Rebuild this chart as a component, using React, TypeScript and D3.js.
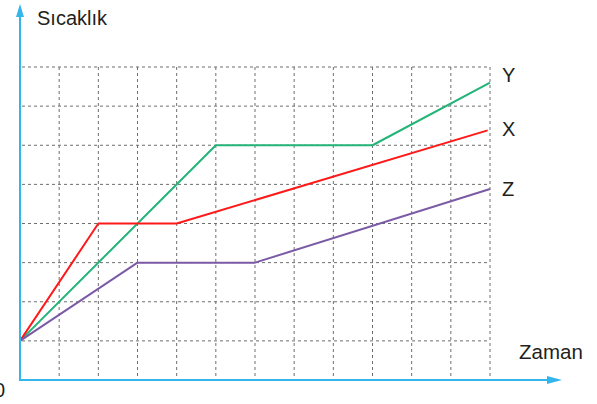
import React from "react";
import * as d3 from "d3";

const timeGrid = [0, 1, 2, 3, 4, 5, 6, 7, 8, 9, 10, 11, 12];
const tempGrid = [0, 1, 2, 3, 4, 5, 6, 7, 8];

type Pt = { t: number; v: number };
const seriesX: Pt[] = [
  { t: 0, v: 1 },
  { t: 2, v: 4 },
  { t: 4, v: 4 },
  { t: 11.94, v: 6.38 },
];
const seriesY: Pt[] = [
  { t: 0, v: 1 },
  { t: 5, v: 6 },
  { t: 9, v: 6 },
  { t: 12, v: 7.6 },
];
const seriesZ: Pt[] = [
  { t: 0, v: 1 },
  { t: 3, v: 3 },
  { t: 6, v: 3 },
  { t: 12, v: 4.88 },
];

const seriesList = [
  { name: "Y", data: seriesY, color: "#22b478" },
  { name: "X", data: seriesX, color: "#ff1a1a" },
  { name: "Z", data: seriesZ, color: "#7b5aa6" },
];

export default function App() {
  const W = 597;
  const H = 404;
  const x = d3.scaleLinear().domain([0, 12]).range([20, 490]);
  const y = d3.scaleLinear().domain([0, 8]).range([380, 67]);
  const line = d3
    .line<Pt>()
    .x((d) => x(d.t))
    .y((d) => y(d.v));
  const axisColor = "#34b6ec";
  const font = "'Liberation Sans', Arial, Helvetica, sans-serif";
  const gridColor = "#6e6e6e";

  return (
    <svg
      width={W}
      height={H}
      style={{ position: "absolute", left: 0, top: 0, background: "#fff" }}
      fontFamily={font}
    >
      {/* grid */}
      <g stroke={gridColor} strokeWidth={1} strokeDasharray="3,3" fill="none">
        {timeGrid.slice(1).map((t) => (
          <line key={"v" + t} x1={x(t)} x2={x(t)} y1={y(8)} y2={y(0)} />
        ))}
        {tempGrid.slice(1).map((v) => (
          <line key={"h" + v} x1={x(0) + 2} x2={x(12)} y1={y(v)} y2={y(v)} />
        ))}
      </g>
      {/* series */}
      {seriesList.map((s) => (
        <path
          key={s.name}
          d={line(s.data) || ""}
          fill="none"
          stroke={s.color}
          strokeWidth={2}
          strokeLinejoin="round"
        />
      ))}
      {/* axes */}
      <line x1={x(0)} x2={x(0)} y1={y(0) + 1} y2={14} stroke={axisColor} strokeWidth={2} />
      <path d={`M${x(0)},4 L${x(0) - 4},17 L${x(0) + 4},17 Z`} fill={axisColor} />
      <line x1={x(0) - 1} x2={550} y1={y(0)} y2={y(0)} stroke={axisColor} strokeWidth={2} />
      <path d={`M562,${y(0)} L547,${y(0) - 4} L547,${y(0) + 4} Z`} fill={axisColor} />
      {/* labels */}
      <text x={37} y={25} fontSize={20} fill="#231f20">
        Sıcaklık
      </text>
      <text x={519} y={359} fontSize={20.5} fill="#231f20">
        Zaman
      </text>
      <text x={5} y={397} fontSize={20} fill="#231f20" textAnchor="end">
        0
      </text>
      {seriesList.map((s) => {
        const last = s.data[s.data.length - 1];
        const offsets: Record<string, number> = { Y: -1, X: 6, Z: 7 };
        return (
          <text
            key={"l" + s.name}
            x={502}
            y={y(last.v) + offsets[s.name]}
            fontSize={20}
            fill="#231f20"
          >
            {s.name}
          </text>
        );
      })}
    </svg>
  );
}
